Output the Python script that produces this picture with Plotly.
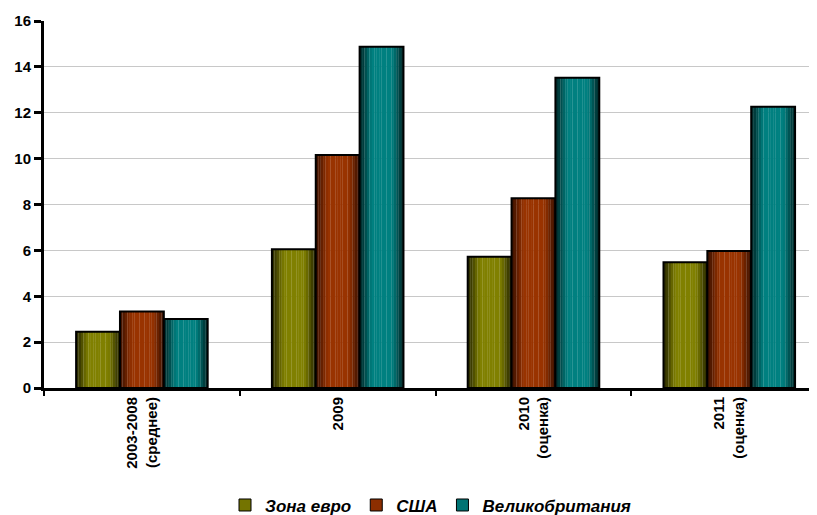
import plotly.graph_objects as go

categories = ["2003-2008<br>(среднее)", "2009", "2010<br>(оценка)", "2011<br>(оценка)"]
euro = [2.45, 6.05, 5.72, 5.48]
usa = [3.34, 10.16, 8.27, 5.97]
uk = [3.01, 14.88, 13.53, 12.26]
series_names = ["Зона евро", "США", "Великобритания"]
y_ticks = [0, 2, 4, 6, 8, 10, 12, 14, 16]

series = [
    (series_names[0], euro, (0x80, 0x80, 0x00), (0x30, 0x30, 0x00)),
    (series_names[1], usa, (0x99, 0x33, 0x00), (0x44, 0x14, 0x00)),
    (series_names[2], uk, (0x00, 0x80, 0x80), (0x00, 0x30, 0x30)),
]

bar_w = 0.224
group_start = -1.5 * bar_w
N = 18

def mix(c1, c2, f):
    return "rgb(%d,%d,%d)" % tuple(round(a + (b - a) * f) for a, b in zip(c1, c2))

fig = go.Figure()
for i, (name, vals, base, dark) in enumerate(series):
    off = group_start + i * bar_w
    sw = bar_w / N
    for k in range(N):
        t = (k + 0.5) / N
        f = min(1.0, min(t / 0.32, (1 - t) / 0.3))
        f = f * f * (3 - 2 * f)
        fig.add_trace(go.Bar(
            x=categories, y=vals, offset=off + k * sw, width=sw * 1.08,
            marker=dict(color=mix(dark, base, f), line=dict(width=0)),
            showlegend=False, hoverinfo="skip"))
    fig.add_trace(go.Bar(
        x=categories, y=vals, offset=off, width=bar_w,
        marker=dict(color="rgba(0,0,0,0)", line=dict(color="black", width=2)),
        showlegend=False, hoverinfo="skip"))
    fig.add_trace(go.Bar(
        x=categories, y=[None] * len(categories), name=name,
        marker=dict(color=mix(dark, base, 0.85), line=dict(color="black", width=1)),
        showlegend=True))

# page body has an 8px margin, so the figure is sized/offset to fill the 817x515 view
fig.update_layout(
    width=809, height=507,
    barmode="overlay",
    plot_bgcolor="white", paper_bgcolor="white",
    margin=dict(l=36, r=0, t=13, b=127, autoexpand=False),
    font=dict(family="Liberation Sans, Arial, sans-serif", color="black"),
    showlegend=True,
    legend=dict(orientation="h", x=0.5, xanchor="center", y=-0.32, yanchor="middle",
                font=dict(size=17, weight="bold", style="italic"),
                itemwidth=30, tracegroupgap=0),
)
fig.update_xaxes(
    range=[-0.5, 3.448], showline=True, linecolor="black", linewidth=3,
    tickson="boundaries", ticks="outside", ticklen=5, tickwidth=2, tickcolor="black",
    tickangle=-90, tickfont=dict(size=15, weight="bold"), showgrid=False,
)
fig.update_yaxes(
    range=[0, 16], tickvals=y_ticks, showline=True, linecolor="black", linewidth=3,
    ticks="outside", ticklen=7, tickwidth=3, tickcolor="black",
    tickfont=dict(size=15, weight="bold"), showgrid=True, gridcolor="#c8c8c8",
    gridwidth=1, zeroline=False,
)
fig.write_html("out.html")
